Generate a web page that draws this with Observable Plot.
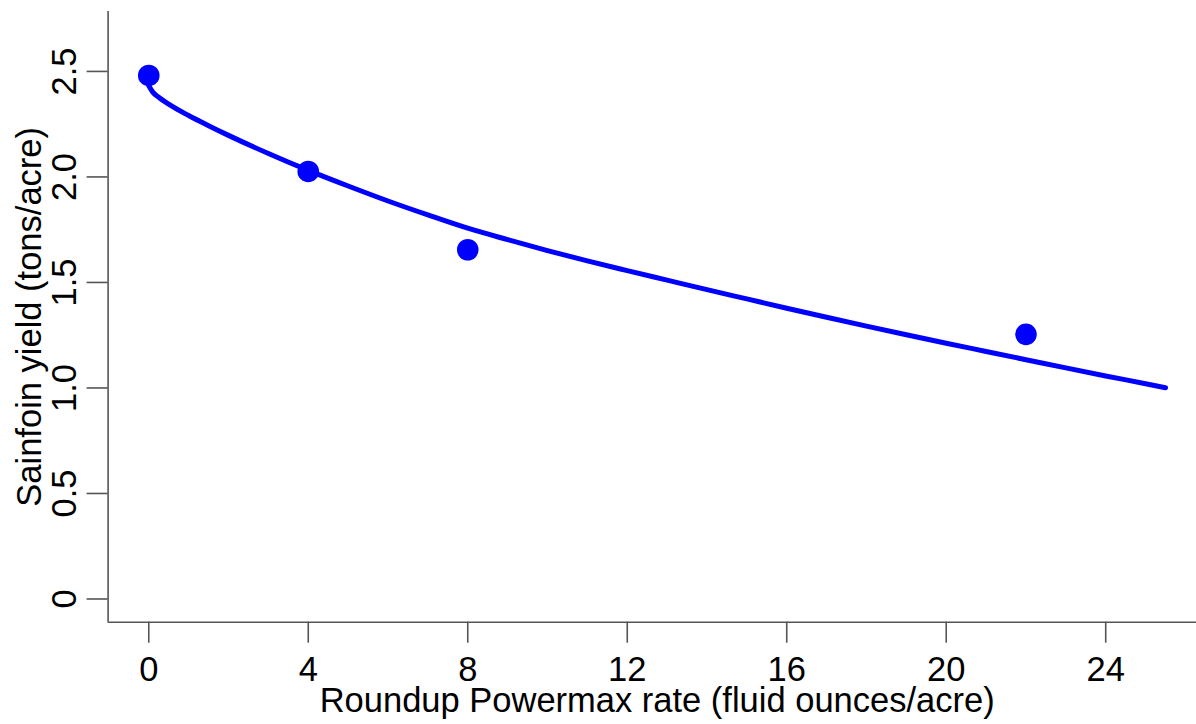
<!DOCTYPE html>
<html>
<head>
<meta charset="utf-8">
<script src="https://cdn.jsdelivr.net/npm/d3@7"></script>
<script src="https://cdn.jsdelivr.net/npm/@observablehq/plot@0.6"></script>
<style>
  html, body { margin: 0; padding: 0; background: #fff; overflow: hidden; }
</style>
</head>
<body>
<div id="chart"></div>
<script>
// Observed data points
const rates = [0, 4, 8, 22];
const yields = [2.481, 2.026, 1.655, 1.254];

// Fitted curve
const curveX = [0, 0.1, 0.25, 0.5, 1, 1.5, 2, 3, 4, 5, 6, 7, 8, 9, 10, 11, 12, 13, 14, 15, 16, 17, 18, 19, 20, 21, 22, 23, 24, 25, 25.5];
const curveY = [2.432, 2.402, 2.378, 2.345, 2.291, 2.243, 2.197, 2.111, 2.031, 1.957, 1.886, 1.820, 1.757, 1.703, 1.651, 1.602, 1.556, 1.511, 1.466, 1.422, 1.378, 1.335, 1.293, 1.252, 1.212, 1.173, 1.134, 1.095, 1.057, 1.020, 1.001];

// Ticks and labels
const xTicks = [0, 4, 8, 12, 16, 20, 24];
const yTicks = [0, 0.5, 1.0, 1.5, 2.0, 2.5];
const yTickLabels = ["0", "0.5", "1.0", "1.5", "2.0", "2.5"];
const xTitle = "Roundup Powermax rate (fluid ounces/acre)";
const yTitle = "Sainfoin yield (tons/acre)";

const xDomain = [-1.02, 26.52];
const yDomain = [-0.11, 2.784];

const points = rates.map((r, i) => ({x: r, y: yields[i]}));
const curve = curveX.map((c, i) => ({x: c, y: curveY[i]}));
const yLab = yTicks.map((t, i) => ({y: t, label: yTickLabels[i]}));

const axisColor = "#555";
const font = "'Liberation Sans', Arial, Helvetica, sans-serif";
const fs = 34.5;

const chart = Plot.plot({
  width: 1196,
  height: 724,
  marginLeft: 107.6,
  marginRight: 0,
  marginTop: 11,
  marginBottom: 102.3,
  style: {fontFamily: font, fontSize: fs + "px", color: "#000", background: "#fff"},
  x: {domain: xDomain, range: [107.6, 1205.7]},
  y: {domain: yDomain},
  marks: [
    // axis lines (R bty="l")
    Plot.ruleX([xDomain[0]], {stroke: axisColor, strokeWidth: 1.6}),
    Plot.ruleY([yDomain[0]], {stroke: axisColor, strokeWidth: 1.6}),
    // x axis ticks & labels
    Plot.axisX({ticks: xTicks, tickSize: 21, tickPadding: 12.8, stroke: axisColor, strokeWidth: 1.6, label: null, fill: "#000", tickFormat: d => String(d)}),
    // y axis ticks
    Plot.axisY({ticks: yTicks, tickSize: 21, stroke: axisColor, strokeWidth: 1.6, label: null, tickFormat: () => ""}),
    // y tick labels rotated
    Plot.text(yLab, {y: "y", text: "label", frameAnchor: "left", rotate: -90, dx: -32.6, lineAnchor: "bottom", textAnchor: "middle", fill: "#000", fontSize: fs}),
    // axis titles
    Plot.text([xTitle], {x: (xDomain[0] + xDomain[1]) / 2, text: d => d, frameAnchor: "bottom", dy: 89.3, lineAnchor: "bottom", textAnchor: "middle", fill: "#000", fontSize: fs}),
    Plot.text([yTitle], {y: (yDomain[0] + yDomain[1]) / 2, text: d => d, frameAnchor: "left", rotate: -90, dx: -67.6, lineAnchor: "bottom", textAnchor: "middle", fill: "#000", fontSize: fs}),
    // fitted curve
    Plot.line(curve, {x: "x", y: "y", stroke: "#0000ff", strokeWidth: 5, curve: "monotone-x", strokeLinecap: "round"}),
    // observed points
    Plot.dot(points, {x: "x", y: "y", r: 10.8, fill: "#0000ff", stroke: "none"})
  ]
});
document.getElementById("chart").appendChild(chart);
</script>
</body>
</html>
